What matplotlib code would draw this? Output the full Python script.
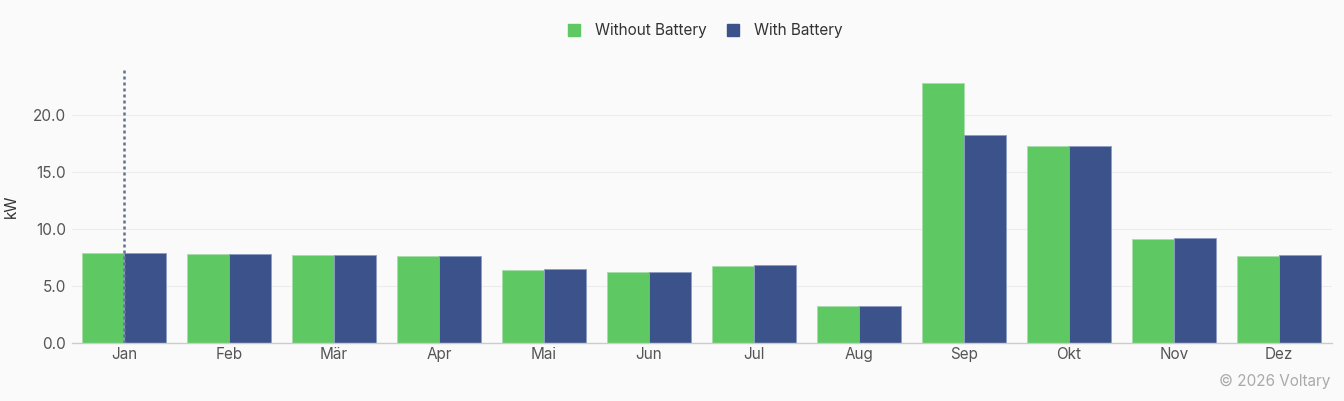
import numpy as np
import matplotlib
matplotlib.use("Agg")
import matplotlib.pyplot as plt
from matplotlib.patches import Rectangle

months = ["Jan", "Feb", "Mär", "Apr", "Mai", "Jun", "Jul", "Aug", "Sep", "Okt", "Nov", "Dez"]
without_battery = [7.89, 7.83, 7.72, 7.63, 6.43, 6.23, 6.78, 3.25, 22.83, 17.25, 9.15, 7.66]
with_battery = [7.90, 7.85, 7.74, 7.66, 6.45, 6.25, 6.82, 3.28, 18.27, 17.27, 9.17, 7.68]
y_ticks = [0.0, 5.0, 10.0, 15.0, 20.0]

green = "#5ec962"
blue = "#3b528b"
bg = "#fafafa"

plt.rcParams['font.family'] = ['Inter', 'DejaVu Sans']

fig = plt.figure(figsize=(13.44, 4.01), dpi=100, facecolor=bg)
ax = fig.add_axes([71.5 / 1344, 58 / 401, 1260 / 1344, 273 / 401])
ax.set_facecolor(bg)

x = np.arange(len(months))
w = 0.4
ax.bar(x - w / 2, without_battery, w, color=green, edgecolor="#a8dcaa", linewidth=0.6, zorder=3)
ax.bar(x + w / 2, with_battery, w, color=blue, edgecolor="#8c9cc4", linewidth=0.6, zorder=3)

# hover crosshair at Jan
ax.axvline(0, color="#5f7390", linestyle=(0, (1.2, 1.2)), linewidth=1.8, zorder=4)

ax.set_xlim(-0.5, len(months) - 0.5)
ax.set_ylim(0, 23.95)
ax.set_xticks(x)
ax.set_xticklabels(months)
ax.set_yticks(y_ticks)
ax.set_yticklabels(["%.1f" % v for v in y_ticks])
ax.tick_params(axis="both", length=0, labelsize=11, labelcolor="#555555")
ax.tick_params(axis="x", pad=3)
ax.tick_params(axis="y", pad=4)
ax.yaxis.grid(True, color="#ececec", linewidth=0.8, zorder=0)
for s in ["top", "right", "left"]:
    ax.spines[s].set_visible(False)
ax.spines["bottom"].set_color("#cccccc")
ax.spines["bottom"].set_linewidth(1.0)
ax.spines["bottom"].set_zorder(5)

ax.set_ylabel("kW", fontsize=11, color="#333333", labelpad=10)

# legend
fig.patches.append(Rectangle((568 / 1344, 1 - 36 / 401), 12 / 1344, 12 / 401,
                             transform=fig.transFigure, color=green))
fig.text(595 / 1344, 1 - 30 / 401, "Without Battery", fontsize=11, color="#333333", va="center")
fig.patches.append(Rectangle((727 / 1344, 1 - 36 / 401), 12 / 1344, 12 / 401,
                             transform=fig.transFigure, color=blue))
fig.text(754 / 1344, 1 - 30 / 401, "With Battery", fontsize=11, color="#333333", va="center")

fig.text(1330 / 1344, 1 - 381 / 401, "© 2026 Voltary", fontsize=11, color="#aaaaaa",
         ha="right", va="center")

fig.savefig("out.png", dpi=100, facecolor=bg)
